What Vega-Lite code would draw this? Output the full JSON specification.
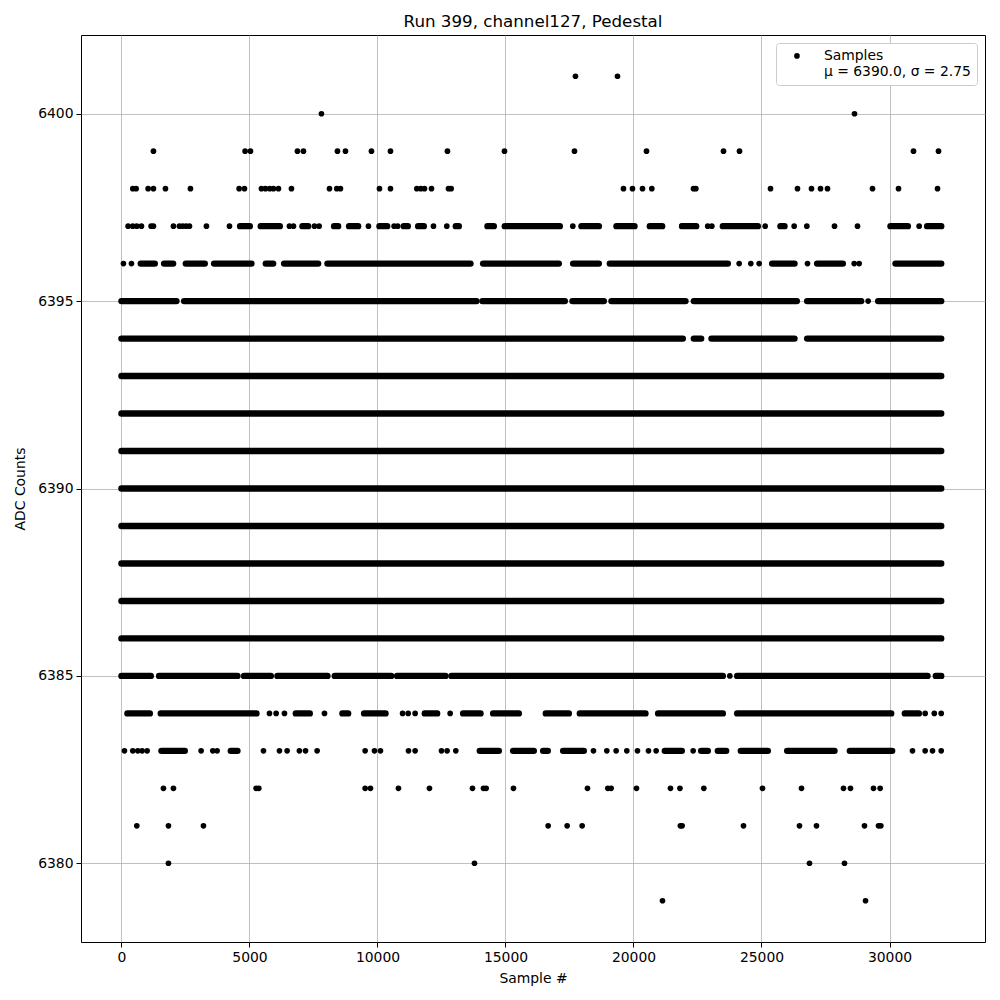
{
  "$schema": "https://vega.github.io/schema/vega-lite/v6.json",
  "width": 904,
  "height": 907,
  "autosize": {"type": "none"},
  "padding": {"left": 81, "top": 35, "right": 15, "bottom": 58},
  "title": {"text": "Run 399, channel127, Pedestal", "font": "DejaVu Sans", "fontSize": 16.7, "fontWeight": "normal", "color": "black", "anchor": "middle", "offset": 4},
  "config": {
    "view": {"stroke": "black", "strokeWidth": 1},
    "axis": {"labelFont": "DejaVu Sans", "labelFontSize": 13.9, "labelColor": "black", "titleFont": "DejaVu Sans", "titleFontSize": 13.9, "titleFontWeight": "normal", "titleColor": "black", "tickColor": "black", "tickSize": 5, "tickWidth": 1, "domain": false, "grid": true, "gridColor": "#b0b0b0", "gridWidth": 0.8, "labelPadding": 3},
    "legend": {"orient": "top-right", "offset": 8, "fillColor": "white", "strokeColor": "#cccccc", "cornerRadius": 3, "padding": 6, "labelFont": "DejaVu Sans", "labelFontSize": 13.9, "labelColor": "black", "symbolType": "circle", "symbolSize": 32, "symbolFillColor": "black", "symbolStrokeWidth": 0, "symbolOffset": 8, "labelOffset": 20}
  },
  "datasets": {
    "runs": [
      {"y": 6393, "a": 0, "b": 32020},
      {"y": 6392, "a": 0, "b": 32020},
      {"y": 6391, "a": 0, "b": 32020},
      {"y": 6390, "a": 0, "b": 32020},
      {"y": 6389, "a": 0, "b": 32020},
      {"y": 6388, "a": 0, "b": 32020},
      {"y": 6387, "a": 0, "b": 32020},
      {"y": 6386, "a": 0, "b": 32020},
      {"y": 6394, "a": 0, "b": 21927}, {"y": 6394, "a": 22357, "b": 22643}, {"y": 6394, "a": 23047, "b": 26289}, {"y": 6394, "a": 26784, "b": 32020},
      {"y": 6395, "a": 0, "b": 2148}, {"y": 6395, "a": 2448, "b": 13867}, {"y": 6395, "a": 14102, "b": 17318}, {"y": 6395, "a": 17617, "b": 18841}, {"y": 6395, "a": 19140, "b": 22031}, {"y": 6395, "a": 22357, "b": 26380}, {"y": 6395, "a": 26784, "b": 28893}, {"y": 6395, "a": 29557, "b": 32020},
      {"y": 6385, "a": 0, "b": 1146}, {"y": 6385, "a": 1471, "b": 4531}, {"y": 6385, "a": 4791, "b": 5833}, {"y": 6385, "a": 6093, "b": 8046}, {"y": 6385, "a": 8333, "b": 10534}, {"y": 6385, "a": 10768, "b": 12656}, {"y": 6385, "a": 12891, "b": 23490}, {"y": 6385, "a": 24050, "b": 31484}, {"y": 6385, "a": 31810, "b": 32020},
      {"y": 6396, "a": 755, "b": 1302}, {"y": 6396, "a": 1666, "b": 2018}, {"y": 6396, "a": 2513, "b": 3255}, {"y": 6396, "a": 3619, "b": 5078}, {"y": 6396, "a": 5638, "b": 5925}, {"y": 6396, "a": 6354, "b": 7682}, {"y": 6396, "a": 8047, "b": 13633}, {"y": 6396, "a": 14127, "b": 17083}, {"y": 6396, "a": 17643, "b": 18646}, {"y": 6396, "a": 19075, "b": 23685}, {"y": 6396, "a": 25417, "b": 26289}, {"y": 6396, "a": 27174, "b": 28177}, {"y": 6396, "a": 30234, "b": 32020},
      {"y": 6384, "a": 234, "b": 1107}, {"y": 6384, "a": 1536, "b": 5273}, {"y": 6384, "a": 6810, "b": 7356}, {"y": 6384, "a": 8632, "b": 8854}, {"y": 6384, "a": 9479, "b": 10313}, {"y": 6384, "a": 11849, "b": 12331}, {"y": 6384, "a": 13346, "b": 14024}, {"y": 6384, "a": 14518, "b": 15521}, {"y": 6384, "a": 16575, "b": 17474}, {"y": 6384, "a": 17904, "b": 20468}, {"y": 6384, "a": 20963, "b": 23490}, {"y": 6384, "a": 24050, "b": 30065}, {"y": 6384, "a": 30599, "b": 31146},
      {"y": 6397, "a": 4635, "b": 5013}, {"y": 6397, "a": 5442, "b": 6185}, {"y": 6397, "a": 7070, "b": 7291}, {"y": 6397, "a": 8307, "b": 8463}, {"y": 6397, "a": 8893, "b": 9244}, {"y": 6397, "a": 10078, "b": 10378}, {"y": 6397, "a": 11029, "b": 11185}, {"y": 6397, "a": 11589, "b": 11810}, {"y": 6397, "a": 13060, "b": 13177}, {"y": 6397, "a": 14297, "b": 14544}, {"y": 6397, "a": 14974, "b": 17122}, {"y": 6397, "a": 17969, "b": 18646}, {"y": 6397, "a": 19336, "b": 20039}, {"y": 6397, "a": 20638, "b": 21119}, {"y": 6397, "a": 21901, "b": 22448}, {"y": 6397, "a": 23490, "b": 24857}, {"y": 6397, "a": 25742, "b": 25898}, {"y": 6397, "a": 30039, "b": 30716}, {"y": 6397, "a": 31471, "b": 32020},
      {"y": 6383, "a": 1562, "b": 2474}, {"y": 6383, "a": 4271, "b": 4531}, {"y": 6383, "a": 13997, "b": 14740}, {"y": 6383, "a": 15299, "b": 16107}, {"y": 6383, "a": 16471, "b": 16653}, {"y": 6383, "a": 17252, "b": 18060}, {"y": 6383, "a": 21224, "b": 21888}, {"y": 6383, "a": 22643, "b": 22904}, {"y": 6383, "a": 23294, "b": 23620}, {"y": 6383, "a": 24193, "b": 25247}, {"y": 6383, "a": 26003, "b": 27852}, {"y": 6383, "a": 28450, "b": 30104}
    ],
    "dots": [
      {"y": 6401, "x": 17734}, {"y": 6401, "x": 19375},
      {"y": 6400, "x": 7812}, {"y": 6400, "x": 28633},
      {"y": 6399, "x": 1250}, {"y": 6399, "x": 4830}, {"y": 6399, "x": 5039}, {"y": 6399, "x": 6875}, {"y": 6399, "x": 7109}, {"y": 6399, "x": 8437}, {"y": 6399, "x": 8750}, {"y": 6399, "x": 9765}, {"y": 6399, "x": 10508}, {"y": 6399, "x": 12734}, {"y": 6399, "x": 14961}, {"y": 6399, "x": 17695}, {"y": 6399, "x": 20508}, {"y": 6399, "x": 23516}, {"y": 6399, "x": 24141}, {"y": 6399, "x": 30937}, {"y": 6399, "x": 31914},
      {"y": 6398, "x": 443}, {"y": 6398, "x": 573}, {"y": 6398, "x": 1042}, {"y": 6398, "x": 1250}, {"y": 6398, "x": 1719}, {"y": 6398, "x": 2695}, {"y": 6398, "x": 4596}, {"y": 6398, "x": 4805}, {"y": 6398, "x": 5468}, {"y": 6398, "x": 5625}, {"y": 6398, "x": 5794}, {"y": 6398, "x": 5937}, {"y": 6398, "x": 6133}, {"y": 6398, "x": 6640}, {"y": 6398, "x": 8125}, {"y": 6398, "x": 8411}, {"y": 6398, "x": 8554}, {"y": 6398, "x": 10078}, {"y": 6398, "x": 10508}, {"y": 6398, "x": 11536}, {"y": 6398, "x": 11693}, {"y": 6398, "x": 11836}, {"y": 6398, "x": 12110}, {"y": 6398, "x": 12774}, {"y": 6398, "x": 12878}, {"y": 6398, "x": 19609}, {"y": 6398, "x": 19961}, {"y": 6398, "x": 20352}, {"y": 6398, "x": 20716}, {"y": 6398, "x": 22344}, {"y": 6398, "x": 22435}, {"y": 6398, "x": 25352}, {"y": 6398, "x": 26406}, {"y": 6398, "x": 26953}, {"y": 6398, "x": 27305}, {"y": 6398, "x": 27578}, {"y": 6398, "x": 29336}, {"y": 6398, "x": 30352}, {"y": 6398, "x": 31875},
      {"y": 6397, "x": 260}, {"y": 6397, "x": 443}, {"y": 6397, "x": 599}, {"y": 6397, "x": 781}, {"y": 6397, "x": 1159}, {"y": 6397, "x": 1250}, {"y": 6397, "x": 2031}, {"y": 6397, "x": 2266}, {"y": 6397, "x": 2396}, {"y": 6397, "x": 2526}, {"y": 6397, "x": 2656}, {"y": 6397, "x": 3320}, {"y": 6397, "x": 4219}, {"y": 6397, "x": 6562}, {"y": 6397, "x": 6719}, {"y": 6397, "x": 7539}, {"y": 6397, "x": 7721}, {"y": 6397, "x": 9648}, {"y": 6397, "x": 10650}, {"y": 6397, "x": 10790}, {"y": 6397, "x": 12188}, {"y": 6397, "x": 12708}, {"y": 6397, "x": 17630}, {"y": 6397, "x": 21888}, {"y": 6397, "x": 22900}, {"y": 6397, "x": 23060}, {"y": 6397, "x": 25143}, {"y": 6397, "x": 26276}, {"y": 6397, "x": 26771}, {"y": 6397, "x": 27852}, {"y": 6397, "x": 28750}, {"y": 6397, "x": 31158},
      {"y": 6396, "x": 78}, {"y": 6396, "x": 391}, {"y": 6396, "x": 24128}, {"y": 6396, "x": 24583}, {"y": 6396, "x": 24909}, {"y": 6396, "x": 26797}, {"y": 6396, "x": 28620}, {"y": 6396, "x": 28815},
      {"y": 6395, "x": 29166},
      {"y": 6385, "x": 23763},
      {"y": 6384, "x": 5781}, {"y": 6384, "x": 6042}, {"y": 6384, "x": 6367}, {"y": 6384, "x": 7930}, {"y": 6384, "x": 10980}, {"y": 6384, "x": 11200}, {"y": 6384, "x": 11471}, {"y": 6384, "x": 12839}, {"y": 6384, "x": 31393}, {"y": 6384, "x": 31750}, {"y": 6384, "x": 32020},
      {"y": 6383, "x": 117}, {"y": 6383, "x": 443}, {"y": 6383, "x": 638}, {"y": 6383, "x": 807}, {"y": 6383, "x": 1003}, {"y": 6383, "x": 3112}, {"y": 6383, "x": 3568}, {"y": 6383, "x": 3737}, {"y": 6383, "x": 5547}, {"y": 6383, "x": 6172}, {"y": 6383, "x": 6471}, {"y": 6383, "x": 6950}, {"y": 6383, "x": 7190}, {"y": 6383, "x": 7643}, {"y": 6383, "x": 9518}, {"y": 6383, "x": 9883}, {"y": 6383, "x": 10117}, {"y": 6383, "x": 11211}, {"y": 6383, "x": 11471}, {"y": 6383, "x": 12500}, {"y": 6383, "x": 12720}, {"y": 6383, "x": 13060}, {"y": 6383, "x": 18437}, {"y": 6383, "x": 18958}, {"y": 6383, "x": 19323}, {"y": 6383, "x": 19739}, {"y": 6383, "x": 20156}, {"y": 6383, "x": 20586}, {"y": 6383, "x": 20885}, {"y": 6383, "x": 22331}, {"y": 6383, "x": 30898}, {"y": 6383, "x": 31393}, {"y": 6383, "x": 31680}, {"y": 6383, "x": 32020},
      {"y": 6382, "x": 1640}, {"y": 6382, "x": 2031}, {"y": 6382, "x": 5260}, {"y": 6382, "x": 5365}, {"y": 6382, "x": 9518}, {"y": 6382, "x": 9726}, {"y": 6382, "x": 10820}, {"y": 6382, "x": 12031}, {"y": 6382, "x": 13711}, {"y": 6382, "x": 14141}, {"y": 6382, "x": 14245}, {"y": 6382, "x": 15312}, {"y": 6382, "x": 18203}, {"y": 6382, "x": 18997}, {"y": 6382, "x": 19127}, {"y": 6382, "x": 20117}, {"y": 6382, "x": 21445}, {"y": 6382, "x": 21815}, {"y": 6382, "x": 22747}, {"y": 6382, "x": 25039}, {"y": 6382, "x": 26562}, {"y": 6382, "x": 28203}, {"y": 6382, "x": 28476}, {"y": 6382, "x": 29375}, {"y": 6382, "x": 29635},
      {"y": 6381, "x": 599}, {"y": 6381, "x": 1836}, {"y": 6381, "x": 3203}, {"y": 6381, "x": 16667}, {"y": 6381, "x": 17409}, {"y": 6381, "x": 17995}, {"y": 6381, "x": 21830}, {"y": 6381, "x": 21900}, {"y": 6381, "x": 24297}, {"y": 6381, "x": 26484}, {"y": 6381, "x": 27148}, {"y": 6381, "x": 29023}, {"y": 6381, "x": 29570}, {"y": 6381, "x": 29662},
      {"y": 6380, "x": 1836}, {"y": 6380, "x": 13789}, {"y": 6380, "x": 26875}, {"y": 6380, "x": 28242},
      {"y": 6379, "x": 21133}, {"y": 6379, "x": 29063}
    ]
  },
  "layer": [
    {
      "data": {"name": "runs"},
      "mark": {"type": "rule", "strokeWidth": 6.4, "strokeCap": "round", "color": "black"},
      "encoding": {
        "x": {"field": "a", "type": "quantitative", "title": "Sample #", "scale": {"domain": [-1580, 33730], "nice": false, "zero": false}, "axis": {"values": [0, 5000, 10000, 15000, 20000, 25000, 30000], "format": "d", "titlePadding": 8}},
        "x2": {"field": "b"},
        "y": {"field": "y", "type": "quantitative", "title": "ADC Counts", "scale": {"domain": [6377.9, 6402.1], "nice": false, "zero": false}, "axis": {"values": [6380, 6385, 6390, 6395, 6400], "format": "d", "titlePadding": 10}}
      }
    },
    {
      "data": {"name": "dots"},
      "mark": {"type": "point", "filled": true, "size": 32, "opacity": 1, "strokeWidth": 0},
      "encoding": {
        "x": {"field": "x", "type": "quantitative", "title": "Sample #"},
        "y": {"field": "y", "type": "quantitative", "title": "ADC Counts"},
        "color": {"datum": "Samples", "type": "nominal", "scale": {"range": ["black"]}, "legend": {"title": null, "labelExpr": "['Samples', 'μ = 6390.0, σ = 2.75']"}}
      }
    }
  ]
}
